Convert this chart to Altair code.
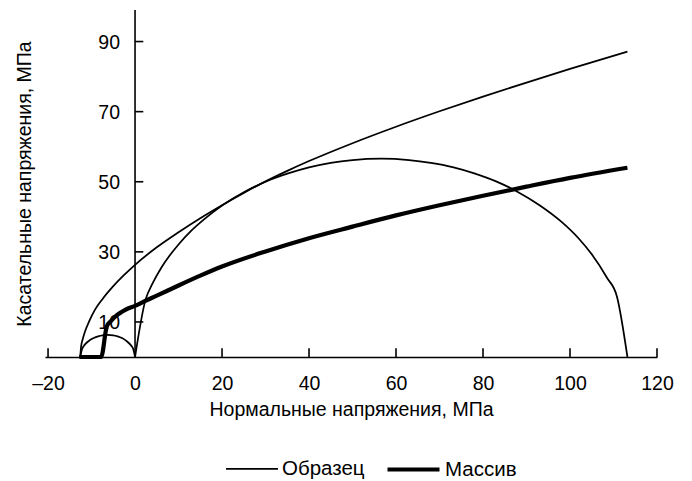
import altair as alt
import pandas as pd

series_names = ["Образец", "Массив"]

# Образец: envelope curve
env_x = [-12.6, -12.4, -12.0, -11.5, -10.5, -9.2, -7.5, -5, -2.5, 0, 5, 10, 15, 20, 25, 30, 35, 40, 50, 60, 70, 80, 90, 100, 113.2]
env_y = [0, 3.0, 5.2, 7.3, 10.3, 13.5, 16.5, 20.2, 23.4, 26.3, 31.3, 35.6, 39.6, 43.3, 46.8, 50.1, 53.1, 55.9, 61.0, 65.7, 70.1, 74.3, 78.3, 82.2, 87.1]

# Образец: small Mohr circle
c1_x = [-12.6, -12.2, -11.5, -10.5, -9.5, -8.5, -7.5, -6.3, -5, -4, -3, -2, -1, -0.4, 0]
c1_y = [0, 2.2, 3.6, 4.7, 5.4, 5.9, 6.2, 6.3, 6.2, 5.9, 5.4, 4.6, 3.4, 2.2, 0]

# Образец: large Mohr circle
c2_x = [0, 2.4, 4, 6, 8, 10, 13, 16, 20, 25, 30, 35, 40, 45, 50, 56.6, 63, 68, 73, 78, 83, 88, 93, 98, 102, 105, 108.5, 110.8, 113.2]
c2_y = [0, 16.3, 20.9, 25.4, 29.0, 32.1, 36.1, 39.4, 43.2, 47.0, 50.0, 52.3, 54.1, 55.4, 56.2, 56.6, 56.2, 55.4, 54.2, 52.4, 50.1, 47.1, 43.3, 38.6, 33.8, 29.3, 22.6, 17.2, 0]

# Массив
m_x = [-12.8, -7.8, -6.5, -5.5, -4.6, -3, -1.5, 0, 2, 5, 10, 15, 20, 30, 40, 50, 60, 70, 80, 90, 100, 113.2]
m_y = [0, 0, 8.7, 10.3, 11.5, 12.9, 13.9, 14.6, 15.8, 17.5, 20.4, 23.2, 25.8, 30.1, 33.9, 37.2, 40.4, 43.3, 46.0, 48.6, 51.1, 54.0]

x_ticks = [-20, 0, 20, 40, 60, 80, 100, 120]
x_tick_marks = [-20, 20, 40, 60, 80, 100, 120]
y_ticks = [10, 30, 50, 70, 90]
y_tick_labels = ["10", "30", "50", "70", "90"]

rows = []
def add(series, seg, xs, ys):
    for i, (a, b) in enumerate(zip(xs, ys)):
        rows.append({"series": series, "seg": seg, "i": i, "x": a, "y": b})

add("Образец", "env", env_x, env_y)
add("Образец", "c1", c1_x, c1_y)
add("Образец", "c2", c2_x, c2_y)
add("Массив", "mass", m_x, m_y)
df = pd.DataFrame(rows)

FS = 19.5
xscale = alt.Scale(domain=[-20.7, 120], nice=False, zero=False)
yscale = alt.Scale(domain=[0, 99], nice=False, zero=False)

legend = alt.Legend(
    title=None, orient="none", legendX=180, legendY=431, direction="horizontal",
    symbolType="stroke", symbolSize=2704, symbolStrokeColor="black",
    labelFontSize=20.5, labelOffset=3, columnPadding=14, labelColor="black",
)

lines = alt.Chart(df).mark_line(strokeJoin="round", interpolate="monotone").encode(
    x=alt.X("x:Q", scale=xscale, axis=alt.Axis(
        values=x_ticks, title="Нормальные напряжения, МПа", grid=False, ticks=False,
        labelPadding=17, domainColor="black", domainWidth=1.6, labelFlush=False,
        labelFontSize=FS, titleFontSize=FS, titleFontWeight="normal",
        labelColor="black", titleColor="black", titlePadding=8,
        labelExpr="datum.value < 0 ? '–' + format(-datum.value, 'd') : datum.label")),
    y=alt.Y("y:Q", scale=yscale, axis=alt.Axis(
        title="Касательные напряжения, МПа", labels=False, ticks=False, domain=False,
        grid=False, titlePadding=11, titleFontSize=FS, titleFontWeight="normal",
        titleColor="black")),
    color=alt.Color("series:N", scale=alt.Scale(domain=series_names, range=["black", "black"]), legend=legend),
    strokeWidth=alt.StrokeWidth("series:N", scale=alt.Scale(domain=series_names, range=[1.75, 4.2]), legend=legend),
    detail="seg:N",
    order="i:Q",
)

yaxis_line = alt.Chart(pd.DataFrame({"x": [0]})).mark_rule(color="black", strokeWidth=1.6).encode(
    x=alt.X("x:Q", scale=xscale), y=alt.datum(0), y2=alt.datum(99)
)

xtick_rules = alt.Chart(pd.DataFrame({"x": x_tick_marks})).mark_rule(color="black", strokeWidth=1.6).encode(
    x=alt.X("x:Q", scale=xscale), y=alt.datum(0), y2=alt.datum(2.5)
)

ytick_df = pd.DataFrame({"y": y_ticks, "lab": y_tick_labels})
ytick_rules = alt.Chart(ytick_df).mark_rule(color="black", strokeWidth=1.6).encode(
    y=alt.Y("y:Q", scale=yscale), x=alt.datum(0), x2=alt.datum(1.9)
)
ytick_text = alt.Chart(ytick_df).mark_text(align="right", baseline="middle", dx=-15, dy=1, fontSize=FS, color="black").encode(
    y=alt.Y("y:Q", scale=yscale), x=alt.datum(0), text="lab:N"
)

chart = alt.layer(lines, yaxis_line, xtick_rules, ytick_rules, ytick_text).properties(
    width=612, height=347,
    autosize=alt.AutoSizeParams(type="none"),
    padding={"left": 37, "top": 2, "right": 27, "bottom": 124},
).configure(font="Liberation Sans").configure_view(strokeOpacity=0)

chart.save("out.html", embed_options={"renderer": "svg", "actions": False})
